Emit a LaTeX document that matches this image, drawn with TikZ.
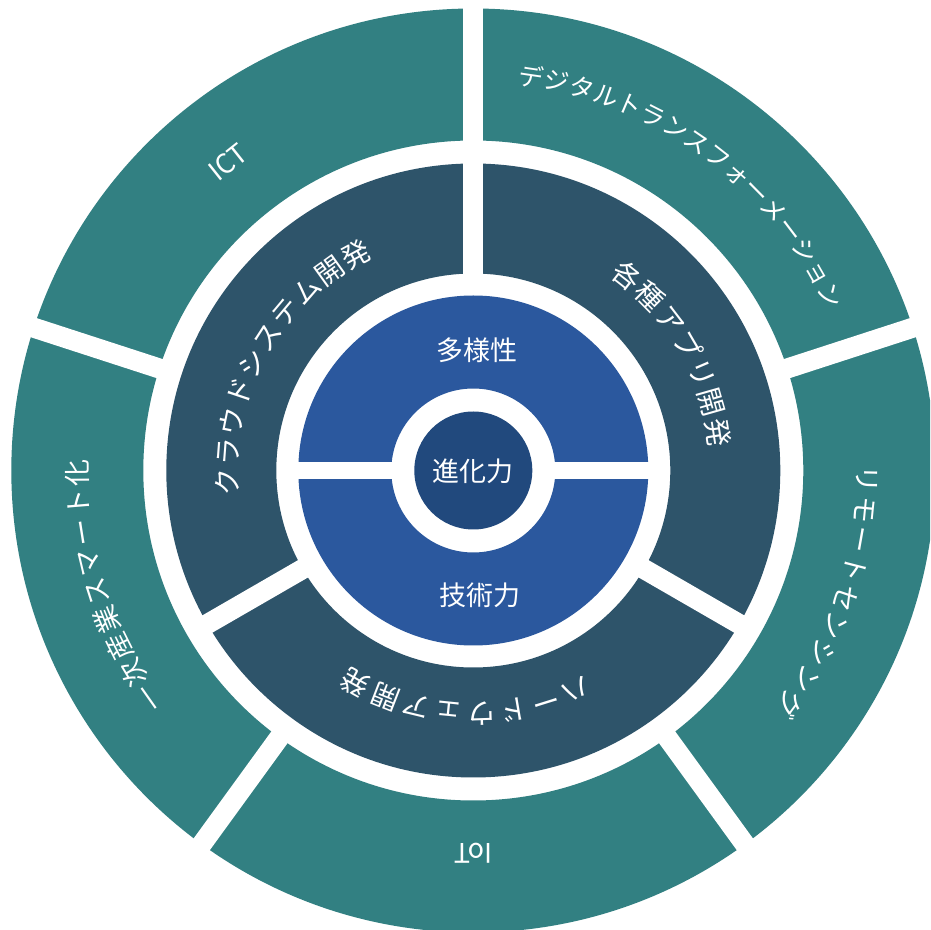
\documentclass[tikz,border=0pt]{standalone}
\usepackage{fontspec}
\newfontfamily\jp{Noto Sans CJK JP}
\definecolor{ringteal}{RGB}{50,128,130}
\definecolor{ringslate}{RGB}{46,84,106}
\definecolor{ringblue}{RGB}{43,88,158}
\definecolor{ringcore}{RGB}{33,73,125}
\tikzset{
  lbl/.style={text=white, inner sep=0pt, anchor=center},
  gapline/.style={draw=white, line width=#1},
}
% #1 radius, #2 start angle, #3 step, #4 font size, #5 list of characters
\newcommand\arclabel[5]{%
  \foreach \ch [count=\ci from 0] in {#5}{%
    \pgfmathsetmacro\ang{#2-\ci*#3}%
    \node[lbl, font=\jp\fontsize{#4}{#4}\selectfont, rotate=\ang-90] at (\ang:#1) {\vphantom{漢}\ch};
  }}
\begin{document}
\begin{tikzpicture}[x=1pt,y=1pt]
\fill[white] (0,0) rectangle (930,930);
\useasboundingbox (0,0) rectangle (930,930);
\clip (0,0) rectangle (930,930);
\begin{scope}[shift={(473.3,459.5)}]
  % outer ring
  \fill[ringteal, even odd rule] (0,0) circle (462) (0,0) circle (330);
  \foreach \a in {18,90,162,234,306} \draw[gapline=20pt] (\a:320) -- (\a:480);
  % middle ring
  \fill[ringslate, even odd rule] (0,0) circle (307) (0,0) circle (197);
  \foreach \a in {90,210,330} \draw[gapline=20pt] (\a:188) -- (\a:316);
  % inner ring
  \fill[ringblue, even odd rule] (0,0) circle (175) (0,0) circle (82);
  \foreach \a in {0,180} \draw[gapline=17pt] (\a:74) -- (\a:183);
  % core
  \fill[ringcore] (0,0) circle (59);

  % outer labels
  \node[lbl, font=\jp\fontsize{27}{27}\selectfont, rotate=38.5] (ict) at (128.5:394) {ICT};
  \node[lbl, font=\jp\fontsize{27}{27}\selectfont, rotate=180] (iot) at (-90:382.5) {IoT};
  \arclabel{398}{81.6}{3.70}{25}{デ,ジ,タ,ル,ト,ラ,ン,ス,フ,ォ,ー,メ,ー,シ,ョ,ン}
  \arclabel{394}{-1.3}{4.4}{27}{リ,モ,ー,ト,セ,ン,シ,ン,グ}
  \arclabel{396}{215.2}{4.36}{27}{一,次,産,業,ス,マ,ー,ト,化}

  % middle labels
  \arclabel{246}{182.8}{7.14}{28}{ク,ラ,ウ,ド,シ,ス,テ,ム,開,発}
  \arclabel{248}{51.8}{7.17}{28}{各,種,ア,プ,リ,開,発}
  \arclabel{243}{-64.9}{7.73}{28}{ハ,ー,ド,ウ,ェ,ア,開,発}

  % inner labels
  \node[lbl, font=\jp\fontsize{27}{27}\selectfont] (tayo) at (3.4,120.5) {多様性};
  \node[lbl, font=\jp\fontsize{27}{27}\selectfont] (gijutsu) at (6.7,-124.5) {技術力};
  \node[lbl, font=\jp\fontsize{27}{27}\selectfont] (shinka) at (0,-1.2) {進化力};
\end{scope}
\end{tikzpicture}
\end{document}
